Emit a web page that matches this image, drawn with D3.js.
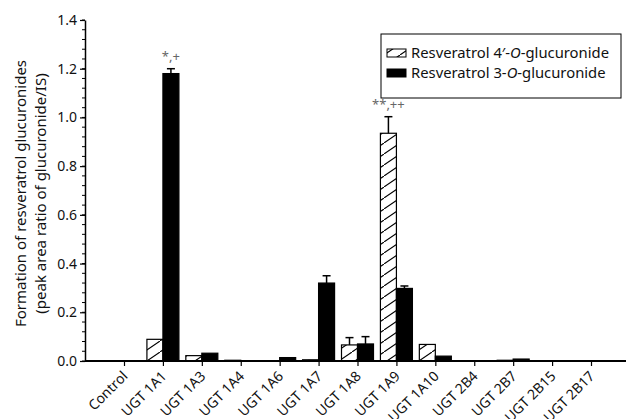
<!DOCTYPE html>
<html>
<head>
<meta charset="utf-8">
<script src="https://cdn.jsdelivr.net/npm/d3@7"></script>
<style>
  html, body { margin: 0; padding: 0; background: #fff; }
  svg { display: block; font-family: "Noto Sans", "Open Sans", sans-serif; }
</style>
</head>
<body>
<svg id="chart" width="626" height="419"></svg>
<script>
const categories = ["Control", "UGT 1A1", "UGT 1A3", "UGT 1A4", "UGT 1A6", "UGT 1A7", "UGT 1A8", "UGT 1A9", "UGT 1A10", "UGT 2B4", "UGT 2B7", "UGT 2B15", "UGT 2B17"];
const gluc4Values = [0, 0.089, 0.022, 0.003, 0, 0.005, 0.066, 0.935, 0.068, 0, 0.003, 0, 0];
const gluc4Errors = [0, 0.003, 0.002, 0, 0, 0, 0.03, 0.068, 0.002, 0, 0, 0, 0];
const gluc3Values = [0, 1.18, 0.032, 0, 0.014, 0.32, 0.07, 0.298, 0.02, 0, 0.008, 0, 0];
const gluc3Errors = [0, 0.02, 0, 0, 0.002, 0.03, 0.03, 0.01, 0.002, 0, 0.003, 0, 0];
const yTicks = [0.0, 0.2, 0.4, 0.6, 0.8, 1.0, 1.2, 1.4];
const seriesNames = ["Resveratrol 4\u2032-O-glucuronide", "Resveratrol 3-O-glucuronide"];
const annotations = [
  { category: "UGT 1A1", series: 1, text: "*,+" },
  { category: "UGT 1A9", series: 0, text: "**,++" }
];

const svg = d3.select("#chart");
const x0 = 85, yBottom = 361, yTop = 20;
const x = d3.scalePoint().domain(categories).range([124, 591]);
const y = d3.scaleLinear().domain([0, 1.4]).range([yBottom, yTop]);
const barW = 16;

// hatch pattern
const defs = svg.append("defs");
const pat = defs.append("pattern").attr("id", "hatch").attr("patternUnits", "userSpaceOnUse")
  .attr("width", 16).attr("height", 11);
pat.append("rect").attr("width", 16).attr("height", 11).attr("fill", "#fff");
pat.append("line").attr("x1", 0).attr("y1", 11).attr("x2", 16).attr("y2", 0)
  .attr("stroke", "#000").attr("stroke-width", 1.1);

const series = [
  { values: gluc4Values, errors: gluc4Errors, fill: "url(#hatch)", offset: -barW },
  { values: gluc3Values, errors: gluc3Errors, fill: "#000", offset: 0 }
];

series.forEach((s, si) => {
  const g = svg.append("g");
  categories.forEach((c, i) => {
    const v = s.values[i];
    if (v <= 0) return;
    const bx = x(c) + s.offset;
    g.append("rect").attr("x", bx).attr("y", y(v)).attr("width", barW)
      .attr("height", y(0) - y(v)).attr("fill", s.fill)
      .attr("stroke", "#000").attr("stroke-width", 1.2);
    const e = s.errors[i];
    if (e > 0.004) {
      const cx = bx + barW / 2;
      g.append("line").attr("x1", cx).attr("x2", cx).attr("y1", y(v)).attr("y2", y(v + e))
        .attr("stroke", "#000").attr("stroke-width", 1.5);
      g.append("line").attr("x1", cx - 4).attr("x2", cx + 4).attr("y1", y(v + e)).attr("y2", y(v + e))
        .attr("stroke", "#000").attr("stroke-width", 1.5);
    }
  });
});

// annotations
annotations.forEach(a => {
  const i = categories.indexOf(a.category);
  const s = series[a.series];
  const cx = x(a.category) + s.offset + barW / 2;
  svg.append("text").attr("x", cx).attr("y", y(s.values[i] + s.errors[i]) - 8)
    .attr("text-anchor", "middle").attr("font-size", 13).attr("fill", "#666").text(a.text);
});

// y axis
const yAxis = d3.axisLeft(y).tickValues(yTicks).tickFormat(d3.format(".1f")).tickSize(5).tickSizeOuter(0);
const gy = svg.append("g").attr("transform", `translate(${x0},0)`);
const minor = d3.range(0, 1.4001, 0.04);
gy.selectAll("line.minor").data(minor).enter().append("line").attr("class", "minor")
  .attr("x1", -3).attr("x2", 0).attr("y1", d => y(d)).attr("y2", d => y(d))
  .attr("stroke", "#000").attr("stroke-width", 1);
gy.call(yAxis);
gy.select(".domain").attr("stroke-width", 1.5);
gy.selectAll(".tick line").attr("stroke-width", 1.2);
gy.selectAll(".tick text").attr("font-size", 14).attr("font-family", "Noto Sans").attr("fill", "#111").attr("x", -8);

// x axis
const gx = svg.append("g").attr("transform", `translate(0,${yBottom})`);
gx.append("line").attr("x1", x0).attr("x2", 626).attr("y1", 0).attr("y2", 0)
  .attr("stroke", "#000").attr("stroke-width", 2);
const xAxis = d3.axisBottom(x).tickSize(5).tickSizeOuter(0);
gx.call(xAxis);
gx.select(".domain").remove();
gx.selectAll(".tick line").attr("stroke-width", 1.2);
gx.selectAll(".tick text").attr("font-size", 14).attr("font-family", "Noto Sans").attr("fill", "#111")
  .attr("text-anchor", "end").attr("y", 0).attr("dy", 0)
  .attr("transform", "translate(4,16) rotate(-45)");

// y title
const titleG = svg.append("g").attr("transform", `translate(0,${(yTop + yBottom) / 2 + 3}) rotate(-90)`);
titleG.append("text").attr("x", 0).attr("y", 26).attr("text-anchor", "middle").attr("font-size", 15)
  .attr("fill", "#111").text("Formation of resveratrol glucuronides");
titleG.append("text").attr("x", 0).attr("y", 46).attr("text-anchor", "middle").attr("font-size", 15)
  .attr("fill", "#111").text("(peak area ratio of glucuronide/IS)");

// legend
const lg = svg.append("g");
lg.append("rect").attr("x", 381).attr("y", 34).attr("width", 240).attr("height", 64)
  .attr("fill", "#fff").attr("stroke", "#000").attr("stroke-width", 1);
const legendRows = [
  { name: seriesNames[0], fill: "url(#hatch)" },
  { name: seriesNames[1], fill: "#000" }
];
legendRows.forEach((r, i) => {
  const cy = 53 + i * 20;
  lg.append("rect").attr("x", 387).attr("y", cy - 4).attr("width", 19).attr("height", 8)
    .attr("fill", r.fill).attr("stroke", "#000").attr("stroke-width", 1);
  const t = lg.append("text").attr("x", 411).attr("y", cy + 5).attr("font-size", 14.8).attr("fill", "#111");
  const parts = r.name.split("O-");
  t.append("tspan").text(parts[0]);
  t.append("tspan").attr("font-style", "italic").text("O");
  t.append("tspan").text("-" + parts[1]);
});
</script>
</body>
</html>
